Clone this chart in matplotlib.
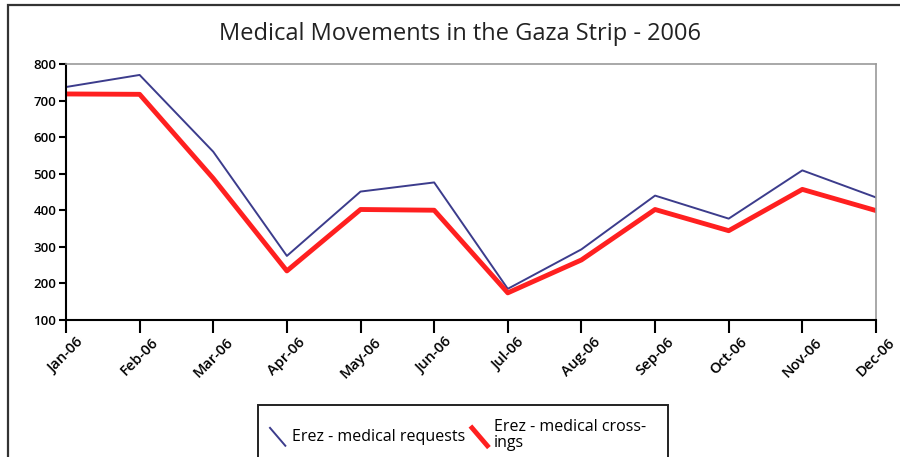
"""
Medical Movements in the Gaza Strip - 2006
"""

import matplotlib
matplotlib.use('Agg')
import matplotlib.pyplot as plt
from matplotlib.lines import Line2D
from matplotlib.legend_handler import HandlerLine2D
from matplotlib.patches import Rectangle

# data
months = ['Jan-06', 'Feb-06', 'Mar-06', 'Apr-06', 'May-06', 'Jun-06',
          'Jul-06', 'Aug-06', 'Sep-06', 'Oct-06', 'Nov-06', 'Dec-06']
requests = [737, 770, 560, 275, 451, 476, 185, 293, 440, 377, 509, 435]
crossings = [718, 717, 487, 234, 402, 400, 174, 264, 402, 344, 457, 399]
y_ticks = [100, 200, 300, 400, 500, 600, 700, 800]

color_req = '#3c3c8c'
color_cross = '#ff2020'

plt.rcParams['font.family'] = ['Open Sans', 'DejaVu Sans']


class DiagonalHandler(HandlerLine2D):
    # excel style legend key: a short diagonal stroke
    def create_artists(self, legend, orig_handle, xdescent, ydescent,
                       width, height, fontsize, trans):
        line = Line2D([width * 0.1, width * 0.9], [height * 1.2, -height * 0.4],
                      color=orig_handle.get_color(),
                      linewidth=orig_handle.get_linewidth(),
                      transform=trans)
        return [line]


fig = plt.figure(figsize=(9, 4.57), dpi=100)
ax = fig.add_axes([0.0733, 0.30, 0.9, 0.56])

x = range(len(months))
l1, = ax.plot(x, requests, color=color_req, linewidth=1.4,
              label='Erez - medical requests')
l2, = ax.plot(x, crossings, color=color_cross, linewidth=3.5,
              label='Erez - medical cross-\nings')

ax.set_xlim(0, len(months) - 1)
ax.set_ylim(100, 800)
ax.set_yticks(y_ticks)
ax.set_yticklabels([str(v) for v in y_ticks], fontsize=9.5, fontweight='semibold')
ax.set_xticks(list(x))
ax.set_xticklabels(months, rotation=45, ha='center', fontsize=10.5,
                   fontweight='semibold')

for side in ['top', 'right']:
    ax.spines[side].set_color('#9a9a9a')
    ax.spines[side].set_linewidth(1.2)
for side in ['left', 'bottom']:
    ax.spines[side].set_color('black')
    ax.spines[side].set_linewidth(1.5)
ax.tick_params(axis='x', length=9, width=1.5, pad=2)
ax.tick_params(axis='y', length=5, width=1.5, pad=2)

fig.text(0.511, 0.925, 'Medical Movements in the Gaza Strip - 2006',
         ha='center', va='center', fontsize=17, color='#222222',
         fontweight='medium')

# outer frame of the chart, cut by the picture edges
fig.patches.append(Rectangle((0.009, -0.05), 1.1, 1.039,
                             transform=fig.transFigure, fill=False,
                             edgecolor='#333333', linewidth=1.6))

# legend, its box also runs past the bottom edge
leg = fig.legend(handles=[l1, l2], loc='upper left',
                 bbox_to_anchor=(0.289, 0.1), ncol=2, frameon=False,
                 fontsize=11.5, handlelength=1.2, handletextpad=0.3,
                 columnspacing=0.3, borderpad=0.0, labelspacing=0.0,
                 handler_map={Line2D: DiagonalHandler()})
for t in leg.get_texts():
    t.set_linespacing(1.0)
fig.patches.append(Rectangle((0.287, -0.05), 0.455, 0.164,
                             transform=fig.transFigure, fill=False,
                             edgecolor='#222222', linewidth=1.4))

plt.savefig('out.png', dpi=100)
